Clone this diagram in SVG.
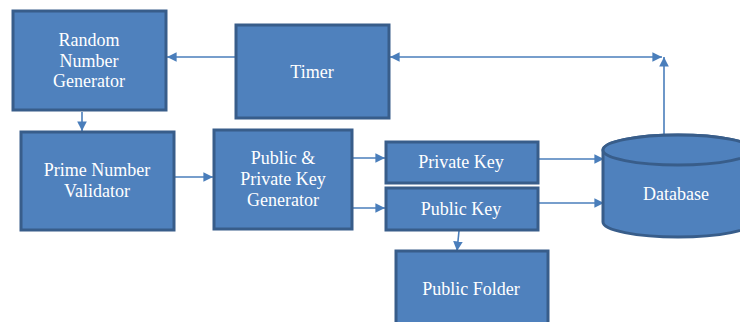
<svg xmlns="http://www.w3.org/2000/svg" width="740" height="322" viewBox="0 0 740 322">
  <style>
    .box { fill: #4F81BD; stroke: #385D8A; stroke-width: 3; }
    .lbl { fill: #FFFFFF; font-family: "Liberation Serif", "Times New Roman", serif; font-size: 18px; text-anchor: middle; }
    .wire { fill: none; stroke: #4A7EBB; stroke-width: 1.6; }
  </style>
  <defs>
    <marker id="arrow" viewBox="0 0 10 10" refX="10" refY="5" markerWidth="6" markerHeight="6" markerUnits="strokeWidth" orient="auto-start-reverse">
      <path d="M0,0 L10,5 L0,10 z" fill="#4A7EBB"/>
    </marker>
  </defs>

  <rect width="740" height="322" fill="#FFFFFF"/>

  <!-- connectors -->
  <g id="connectors">
    <line class="wire" x1="236" y1="57" x2="167" y2="57" marker-end="url(#arrow)"/>
    <line class="wire" x1="390" y1="57" x2="662" y2="57" marker-start="url(#arrow)" marker-end="url(#arrow)"/>
    <line class="wire" x1="664" y1="136" x2="664" y2="57" marker-end="url(#arrow)"/>
    <line class="wire" x1="82" y1="112" x2="82" y2="131" marker-end="url(#arrow)"/>
    <line class="wire" x1="175" y1="177" x2="213" y2="177" marker-end="url(#arrow)"/>
    <line class="wire" x1="350" y1="158" x2="385" y2="158" marker-end="url(#arrow)"/>
    <line class="wire" x1="350" y1="208" x2="385" y2="208" marker-end="url(#arrow)"/>
    <line class="wire" x1="539" y1="159" x2="604" y2="159" marker-end="url(#arrow)"/>
    <line class="wire" x1="539" y1="203" x2="604" y2="203" marker-end="url(#arrow)"/>
    <line class="wire" x1="459" y1="231" x2="457" y2="251" marker-end="url(#arrow)"/>
  </g>

  <g id="random-number-generator">
    <rect class="box" x="13" y="11" width="153" height="99"/>
    <text class="lbl" x="89" y="46">Random</text>
    <text class="lbl" x="89" y="66.5">Number</text>
    <text class="lbl" x="89" y="87">Generator</text>
  </g>

  <g id="timer">
    <rect class="box" x="236" y="25" width="153" height="93"/>
    <text class="lbl" x="312" y="78">Timer</text>
  </g>

  <g id="prime-number-validator">
    <rect class="box" x="21" y="132" width="153" height="98"/>
    <text class="lbl" x="97" y="176">Prime Number</text>
    <text class="lbl" x="97" y="197">Validator</text>
  </g>

  <g id="key-generator">
    <rect class="box" x="214" y="130" width="138" height="99"/>
    <text class="lbl" x="283" y="164">Public &amp;</text>
    <text class="lbl" x="283" y="185">Private Key</text>
    <text class="lbl" x="283" y="206">Generator</text>
  </g>

  <g id="private-key">
    <rect class="box" x="386" y="142" width="152" height="41"/>
    <text class="lbl" x="461" y="168">Private Key</text>
  </g>

  <g id="public-key">
    <rect class="box" x="386" y="188" width="152" height="42"/>
    <text class="lbl" x="461" y="215">Public Key</text>
  </g>

  <g id="public-folder">
    <rect class="box" x="396" y="251" width="152" height="80"/>
    <text class="lbl" x="471" y="295">Public Folder</text>
  </g>

  <g id="database">
    <path class="box" d="M603,150 L603,222 A75,15 0 0 0 753,222 L753,150 A75,15 0 0 0 603,150 Z"/>
    <ellipse class="box" cx="678" cy="150" rx="75" ry="15"/>
    <text class="lbl" x="676" y="200">Database</text>
  </g>
</svg>
